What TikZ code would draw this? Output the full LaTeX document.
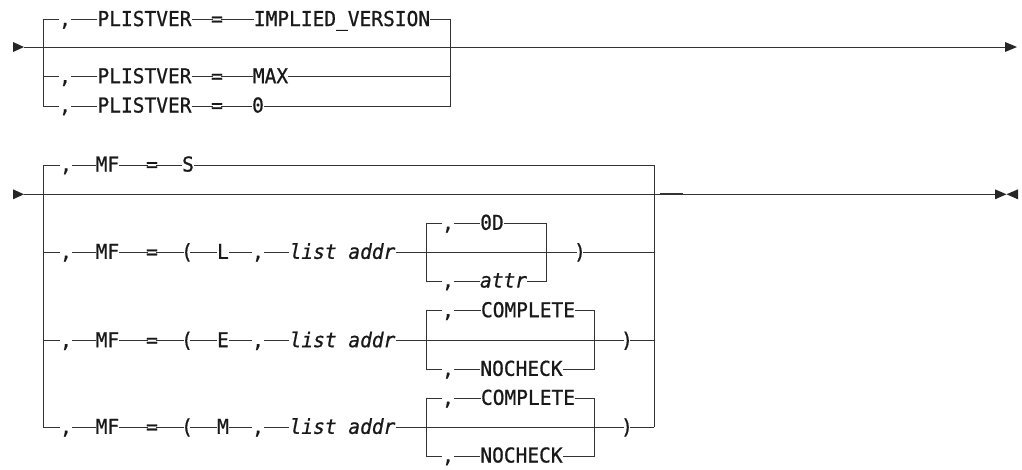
\documentclass[tikz,border=0pt]{standalone}
\usepackage{fontspec}
\newfontfamily\railmono[FakeBold=0.8,FakeStretch=0.952]{DejaVu Sans Mono}
\begin{document}
\begin{tikzpicture}[x=1pt,y=-1pt,
  w/.style={font=\railmono\fontsize{20.5}{21}\selectfont,text=black!90,inner xsep=0pt,inner ysep=0pt,text height=13pt,text depth=0pt},
  v/.style={w,font=\railmono\itshape\fontsize{20.5}{21}\selectfont},
  q/.style={w,inner xsep=-1.7pt},
  p/.style={w,inner xsep=-3pt},
  r/.style={draw=black!80,line width=0.8pt},
  h/.style={fill=black!85}]
  \useasboundingbox (0,0) rectangle (1022,469);
  % PLISTVER
  \coordinate (tp0) at (13,47); \coordinate (tp1) at (24,47);
  \coordinate (tp2) at (1005,47); \coordinate (tp3) at (1017,47);
  \coordinate (vla) at (43,19.5); \coordinate (vlb) at (43,76.7); \coordinate (vlc) at (43,106);
  \coordinate (vra) at (450.7,19.5); \coordinate (vrb) at (450.7,76.7); \coordinate (vrc) at (450.7,106);
  \draw[r] (tp1) -- (tp2);
  \fill[h] ([yshift=5pt]tp0) -- ([yshift=-5pt]tp0) -- (tp1) -- cycle;
  \fill[h] ([yshift=5pt]tp2) -- ([yshift=-5pt]tp2) -- (tp3) -- cycle;
  \node[w] (va1) at (65,19.5) {,};
  \node[w] (va2) at (144.5,19.5) {PLISTVER};
  \node[q] (va3) at (217,19.5) {=};
  \node[w] (va4) at (342,19.5) {IMPLIED\_VERSION};
  \node[w] (vb1) at (65,76.7) {,};
  \node[w] (vb2) at (144.5,76.7) {PLISTVER};
  \node[q] (vb3) at (217,76.7) {=};
  \node[w] (vb4) at (270.5,76.7) {MAX};
  \node[w] (vc1) at (65,106) {,};
  \node[w] (vc2) at (144.5,106) {PLISTVER};
  \node[q] (vc3) at (217,106) {=};
  \node[w] (vc4) at (258,106) {0};
  \draw[r] (va1) -- (vla) -- (vlc) -- (vc1);
  \draw[r] (va4) -- (vra) -- (vrc) -- (vc4);
  \draw[r] (va1) -- (va2) -- (va3) -- (va4);
  \draw[r] (vlb) -- (vb1) -- (vb2) -- (vb3) -- (vb4) -- (vrb);
  \draw[r] (vc1) -- (vc2) -- (vc3) -- (vc4);
  % MF
  \coordinate (bt0) at (13,194.3); \coordinate (bt1) at (24,194.3);
  \coordinate (bt2) at (995,194.3); \coordinate (bt3) at (1006.5,194.3); \coordinate (bt4) at (1018,194.3);
  \coordinate (bt5) at (660,193.8); \coordinate (bt6) at (683,193.8);
  \coordinate (fls) at (43,165); \coordinate (fll) at (43,252.3);
  \coordinate (fle) at (43,340.7); \coordinate (flm) at (43,427.3);
  \coordinate (frs) at (654.3,165); \coordinate (frl) at (654.3,252.3);
  \coordinate (fre) at (654.3,340.7); \coordinate (frm) at (654.3,427.3);
  \draw[r] (bt1) -- (bt2);
  \draw[r,line width=1.6pt] (bt5) -- (bt6);
  \fill[h] ([yshift=5pt]bt0) -- ([yshift=-5pt]bt0) -- (bt1) -- cycle;
  \fill[h] ([yshift=5pt]bt2) -- ([yshift=-5pt]bt2) -- (bt3) -- cycle;
  \fill[h] ([yshift=5pt]bt4) -- ([yshift=-5pt]bt4) -- (bt3) -- cycle;
  \node[w] (s1) at (66,165) {,};
  \node[w] (s2) at (107.5,165) {MF};
  \node[q] (s3) at (152,165) {=};
  \node[w] (s4) at (188,165) {S};
  \draw[r] (s1) -- (fls) -- (flm);
  \draw[r] (s4) -- (frs) -- (frm);
  \draw[r] (s1) -- (s2) -- (s3) -- (s4);
  % L
  \coordinate (lia) at (426.7,223.3); \coordinate (lib) at (426.7,281); \coordinate (lid) at (546.7,281);
  \node[w] (l1) at (66,252.3) {,};
  \node[w] (l2) at (107.5,252.3) {MF};
  \node[q] (l3) at (152,252.3) {=};
  \node[p] (l4) at (187,252.3) {(};
  \node[w] (l5) at (223,252.3) {L};
  \node[w] (l6) at (258,252.3) {,};
  \node[v] (l7) at (342.5,252.3) {list addr};
  \node[w] (l8) at (448,223.3) {,};
  \node[w] (l9) at (492,223.3) {0D};
  \node[w] (l10) at (448,281) {,};
  \node[v] (l11) at (503.5,281) {attr};
  \node[p] (l12) at (580,252.3) {)};
  \draw[r] (fll) -- (l1) -- (l2) -- (l3) -- (l4) -- (l5) -- (l6) -- (l7) -- (l12) -- (frl);
  \draw[r] (l9) -- (l8) -- (lia) -- (lib) -- (l10) -- (l11);
  \draw[r] (l9) -| (lid) -- (l11);
  % E
  \coordinate (eia) at (426.7,310.7); \coordinate (eib) at (426.7,369.3); \coordinate (eid) at (594.3,369.3);
  \node[w] (e1) at (66,340.7) {,};
  \node[w] (e2) at (107.5,340.7) {MF};
  \node[q] (e3) at (152,340.7) {=};
  \node[p] (e4) at (187,340.7) {(};
  \node[w] (e5) at (223,340.7) {E};
  \node[w] (e6) at (258,340.7) {,};
  \node[v] (e7) at (342.5,340.7) {list addr};
  \node[w] (e8) at (448,310.7) {,};
  \node[w] (e9) at (528,310.7) {COMPLETE};
  \node[w] (e10) at (448,369.3) {,};
  \node[w] (e11) at (521.5,369.3) {NOCHECK};
  \node[p] (e12) at (627,340.7) {)};
  \draw[r] (fle) -- (e1) -- (e2) -- (e3) -- (e4) -- (e5) -- (e6) -- (e7) -- (e12) -- (fre);
  \draw[r] (e9) -- (e8) -- (eia) -- (eib) -- (e10) -- (e11);
  \draw[r] (e9) -| (eid) -- (e11);
  % M
  \coordinate (mia) at (426.7,398.3); \coordinate (mib) at (426.7,456); \coordinate (mid) at (594.3,456);
  \node[w] (m1) at (66,427.3) {,};
  \node[w] (m2) at (107.5,427.3) {MF};
  \node[q] (m3) at (152,427.3) {=};
  \node[p] (m4) at (187,427.3) {(};
  \node[w] (m5) at (223,427.3) {M};
  \node[w] (m6) at (258,427.3) {,};
  \node[v] (m7) at (342.5,427.3) {list addr};
  \node[w] (m8) at (448,398.3) {,};
  \node[w] (m9) at (528,398.3) {COMPLETE};
  \node[w] (m10) at (448,456) {,};
  \node[w] (m11) at (521.5,456) {NOCHECK};
  \node[p] (m12) at (627,427.3) {)};
  \draw[r] (flm) -- (m1) -- (m2) -- (m3) -- (m4) -- (m5) -- (m6) -- (m7) -- (m12) -- (frm);
  \draw[r] (m9) -- (m8) -- (mia) -- (mib) -- (m10) -- (m11);
  \draw[r] (m9) -| (mid) -- (m11);
\end{tikzpicture}
\end{document}
